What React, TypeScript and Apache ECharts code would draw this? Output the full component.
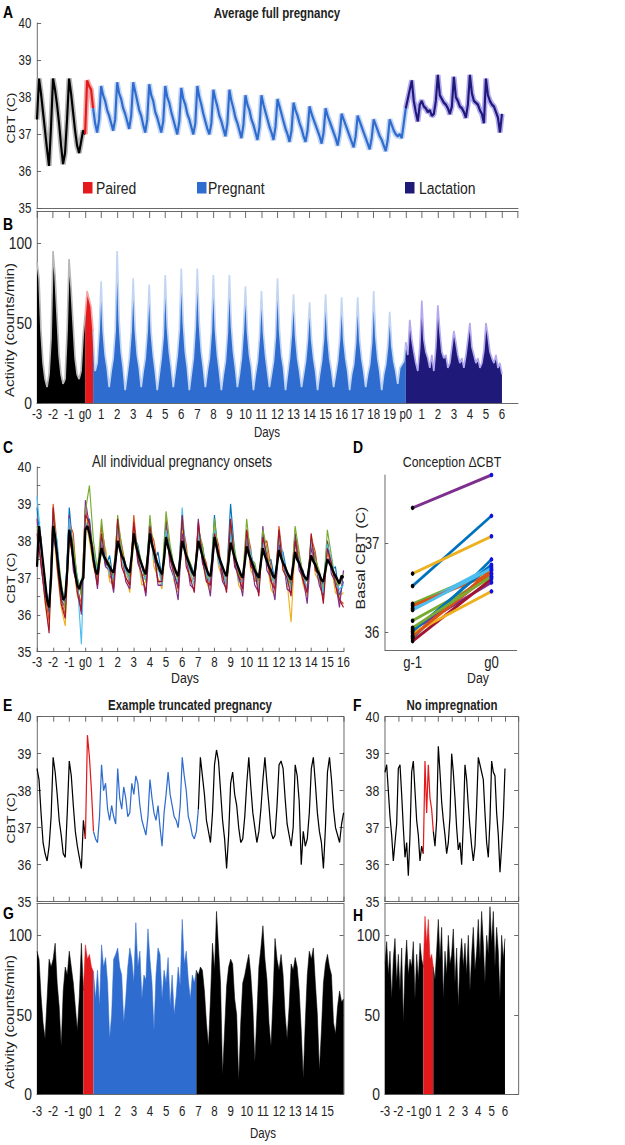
import React, { useEffect, useRef } from "react";
import * as echarts from "echarts";

const FONT = '"Liberation Sans", Arial, sans-serif';
// The reference figure is horizontally compressed; the chart is drawn wider and squeezed by this factor.
const SX = 0.82;
const X = (v: number) => v / SX;

// ---------- tick labels ----------
const daysAB = ["-3", "-2", "-1", "g0", "1", "2", "3", "4", "5", "6", "7", "8", "9", "10", "11", "12", "13", "14", "15", "16", "17", "18", "19", "p0", "1", "2", "3", "4", "5", "6"];
const daysC = ["-3", "-2", "-1", "g0", "1", "2", "3", "4", "5", "6", "7", "8", "9", "10", "11", "12", "13", "14", "15", "16"];
const daysEG = ["-3", "-2", "-1", "g0", "1", "2", "3", "4", "5", "6", "7", "8", "9", "10", "11", "12", "13", "14", "15"];
const daysH = ["-3", "-2", "-1", "g0", "1", "2", "3", "4", "5", "6"];
const dayD = ["g-1", "g0"];
const legendNames = ["Paired", "Pregnant", "Lactation"];

// ---------- A: average CBT, 8 samples per day, day index 0..29 ----------
const cbtAvg = [
  37.4, 38.5, 38.1, 37.6, 37.1, 36.6, 36.15, 37.2,
  38.5, 38.2, 37.8, 37.3, 36.7, 36.2, 36.5, 37.4,
  38.5, 38.1, 37.6, 37.1, 36.7, 36.5, 36.8, 37.1,
  37.0, 38.45, 38.3, 38.2, 37.7,
  37.3, 37.05, 37.4,
  38.3, 38.05, 37.9, 37.65, 37.5, 37.3, 37.1, 37.4,
  38.4, 38.1, 37.95, 37.7, 37.55, 37.35, 37.15, 37.5,
  38.4, 38.15, 37.9, 37.65, 37.5, 37.25, 37.05, 37.4,
  38.35, 38.05, 37.9, 37.6, 37.45, 37.25, 37.05, 37.35,
  38.3, 38.0, 37.85, 37.6, 37.4, 37.2, 37.0, 37.35,
  38.25, 37.95, 37.8, 37.55, 37.4, 37.2, 37.0, 37.3,
  38.3, 38.0, 37.8, 37.55, 37.35, 37.15, 37.0, 37.3,
  38.2, 37.95, 37.75, 37.5, 37.35, 37.15, 36.95, 37.3,
  38.2, 37.9, 37.7, 37.45, 37.3, 37.1, 36.9, 37.25,
  38.05, 37.8, 37.65, 37.4, 37.25, 37.05, 36.85, 37.2,
  38.05, 37.8, 37.6, 37.4, 37.2, 37.05, 36.85, 37.2,
  37.95, 37.75, 37.55, 37.35, 37.15, 37.0, 36.8, 37.1,
  37.85, 37.65, 37.5, 37.3, 37.15, 36.95, 36.8, 37.1,
  37.75, 37.55, 37.4, 37.25, 37.1, 36.95, 36.75, 37.05,
  37.7, 37.5, 37.35, 37.2, 37.05, 36.9, 36.7, 37.0,
  37.55, 37.4, 37.25, 37.1, 36.95, 36.8, 36.65, 36.95,
  37.5, 37.35, 37.2, 37.05, 36.9, 36.75, 36.6, 36.9,
  37.4, 37.25, 37.1, 36.95, 36.85, 36.7, 36.55, 36.85,
  37.4, 37.25, 37.1, 37.0, 36.95, 37.0, 36.9, 37.3,
  37.7, 37.95, 38.2, 38.45, 37.9, 37.6, 37.35, 37.8,
  37.9, 37.75, 37.7, 37.6, 37.65, 37.5, 37.55, 37.9,
  38.6, 38.05, 37.95, 37.85, 37.8, 37.7, 37.55, 37.75,
  38.55, 38.0, 37.9, 37.75, 37.7, 37.6, 37.45, 37.8,
  38.6, 38.1, 37.9, 37.85, 37.8, 37.65, 37.55, 37.3,
  38.5, 38.05, 37.9, 37.8, 37.75, 37.6, 37.45, 37.05,
  37.55,
];

// ---------- B: average activity, 8 samples per day ----------
const actAvg = [
  88, 78, 45, 25, 15, 10, 18, 40,
  95, 80, 55, 30, 18, 12, 15, 45,
  90, 72, 50, 28, 18, 15, 20, 42,
  55, 70, 65, 60, 45,
  20, 25, 45,
  76, 45, 30, 22, 10, 20, 28, 45,
  95, 52, 32, 22, 8, 18, 28, 45,
  78, 46, 30, 22, 10, 20, 28, 45,
  74, 44, 30, 20, 8, 18, 28, 42,
  80, 48, 32, 22, 10, 20, 30, 46,
  84, 50, 32, 22, 8, 18, 28, 48,
  84, 50, 32, 22, 10, 20, 28, 45,
  80, 46, 30, 20, 8, 18, 26, 44,
  80, 48, 32, 22, 10, 18, 28, 46,
  73, 45, 30, 22, 8, 18, 26, 42,
  70, 44, 30, 20, 10, 18, 26, 42,
  78, 46, 30, 22, 8, 18, 28, 44,
  68, 42, 28, 20, 10, 18, 26, 40,
  63, 40, 28, 20, 8, 18, 26, 40,
  68, 42, 28, 20, 10, 18, 26, 40,
  66, 40, 28, 20, 8, 18, 24, 38,
  66, 40, 28, 20, 10, 18, 24, 38,
  70, 42, 28, 20, 8, 18, 24, 36,
  57, 36, 26, 20, 12, 22, 24, 26,
  38, 30, 52, 40, 32, 25, 20, 35,
  64, 40, 32, 28, 22, 30, 20, 35,
  61, 45, 32, 28, 30, 22, 25, 35,
  45, 38, 30, 25, 28, 22, 30, 40,
  50, 35, 30, 25, 28, 22, 25, 33,
  50, 42, 32, 28, 25, 30, 22, 25,
  18,
];

// ---------- C: mean CBT (8/day) and individual animals (4/day), day index 0..19 ----------
const cbtMeanC = [
  37.3, 38.4, 37.9, 37.4, 36.9, 36.4, 36.2, 37.0,
  38.4, 38.1, 37.6, 37.1, 36.7, 36.4, 36.5, 37.2,
  38.3, 38.0, 37.5, 37.1, 36.8, 36.7, 36.9, 37.0,
  38.3, 38.4, 38.2, 37.9, 37.5, 37.2, 37.1, 37.5,
  37.8, 37.6, 37.5, 37.4, 37.3, 37.2, 37.15, 37.5,
  38.0, 37.8, 37.6, 37.5, 37.3, 37.2, 37.15, 37.6,
  38.2, 37.9, 37.7, 37.5, 37.35, 37.2, 37.1, 37.6,
  38.2, 37.9, 37.7, 37.5, 37.35, 37.2, 37.1, 37.5,
  38.1, 37.85, 37.65, 37.45, 37.3, 37.15, 37.05, 37.5,
  38.0, 37.8, 37.6, 37.45, 37.3, 37.15, 37.05, 37.5,
  38.0, 37.8, 37.6, 37.4, 37.25, 37.1, 37.05, 37.5,
  38.1, 37.85, 37.6, 37.45, 37.3, 37.15, 37.05, 37.45,
  37.95, 37.75, 37.55, 37.4, 37.25, 37.1, 37.0, 37.4,
  37.85, 37.65, 37.5, 37.35, 37.2, 37.1, 37.0, 37.4,
  37.8, 37.6, 37.45, 37.3, 37.2, 37.05, 37.0, 37.35,
  37.75, 37.55, 37.4, 37.3, 37.15, 37.05, 36.95, 37.3,
  37.7, 37.5, 37.4, 37.25, 37.1, 37.0, 36.95, 37.3,
  37.6, 37.45, 37.35, 37.2, 37.1, 36.95, 36.9, 37.2,
  37.5, 37.4, 37.3, 37.15, 37.05, 36.95, 36.85, 37.05,
  37.0,
];
const indiv1 = [38.9, 37.8, 36.9, 36.0, 38.6, 37.5, 36.8, 36.3, 38.9, 37.7, 37.0, 36.6, 38.3, 38.6, 37.6, 37.0, 37.9, 37.3, 37.6, 36.9, 38.3, 37.6, 37.2, 37.0, 38.1, 37.9, 37.3, 36.9, 38.6, 37.4, 37.7, 37.0, 38.2, 37.8, 37.1, 36.8, 38.4, 37.6, 37.4, 37.1, 37.9, 37.9, 37.2, 36.8, 38.7, 37.5, 37.3, 37.0, 39.0, 37.7, 37.0, 36.9, 38.0, 37.6, 37.3, 36.7, 38.2, 37.4, 37.5, 36.9, 37.8, 37.7, 37.1, 36.8, 38.1, 37.3, 37.2, 36.6, 37.9, 37.6, 37.0, 36.8, 38.0, 37.2, 37.3, 36.5, 36.9];
const indiv2 = [38.3, 38.1, 36.6, 35.8, 39.0, 37.9, 36.4, 36.0, 38.5, 38.2, 36.7, 36.3, 38.9, 38.2, 37.8, 36.8, 38.4, 37.7, 37.0, 37.2, 38.5, 37.9, 37.3, 36.8, 38.7, 37.6, 37.0, 37.2, 38.3, 38.0, 37.3, 36.9, 38.6, 37.6, 37.2, 37.0, 38.5, 37.9, 36.9, 37.0, 38.4, 37.7, 37.4, 36.7, 38.3, 37.9, 37.0, 37.1, 38.5, 37.5, 37.2, 36.8, 38.3, 37.8, 36.9, 37.0, 37.9, 38.0, 37.3, 36.6, 38.4, 37.5, 36.9, 36.9, 38.2, 37.6, 37.1, 36.6, 38.1, 37.7, 36.9, 36.7, 37.8, 37.4, 37.0, 36.4, 36.3];
const indiv3 = [38.1, 37.5, 36.3, 35.6, 38.4, 37.2, 36.2, 35.7, 38.2, 37.4, 36.5, 36.2, 38.6, 38.0, 37.3, 36.9, 37.7, 37.8, 36.9, 36.8, 38.2, 37.4, 37.1, 36.6, 38.0, 37.6, 36.8, 36.9, 38.5, 37.3, 37.0, 36.7, 38.0, 37.7, 36.9, 36.6, 38.3, 37.4, 37.1, 36.8, 38.1, 37.5, 36.9, 36.6, 38.4, 37.3, 37.0, 36.7, 37.9, 37.6, 36.8, 36.6, 38.2, 37.2, 37.0, 36.8, 38.0, 37.5, 36.7, 36.5, 38.1, 37.3, 36.9, 35.8, 37.9, 37.4, 36.8, 36.5, 38.2, 37.1, 36.9, 36.4, 37.7, 37.3, 36.6, 36.5, 36.6];
const indiv4 = [38.6, 37.3, 36.5, 36.4, 38.1, 37.6, 36.4, 36.2, 38.7, 37.2, 36.8, 36.0, 39.1, 38.4, 37.5, 36.7, 38.1, 37.3, 37.2, 36.6, 38.0, 37.7, 36.9, 36.7, 38.4, 37.4, 37.1, 36.5, 38.1, 37.8, 36.8, 36.8, 38.5, 37.3, 37.0, 36.4, 38.2, 37.6, 36.8, 36.7, 38.6, 37.4, 37.1, 36.5, 38.0, 37.6, 36.9, 36.7, 38.3, 37.3, 37.1, 36.5, 38.1, 37.5, 36.8, 36.6, 38.4, 37.2, 37.0, 36.4, 37.9, 37.6, 36.7, 36.6, 38.2, 37.2, 37.0, 36.3, 37.8, 37.4, 36.8, 36.5, 38.0, 37.1, 36.9, 36.2, 37.2];
const indiv5 = [38.4, 37.9, 36.8, 36.2, 38.8, 37.8, 36.9, 36.1, 38.3, 37.9, 37.0, 36.5, 38.8, 39.5, 38.0, 37.2, 38.6, 37.5, 37.4, 36.9, 38.7, 37.8, 37.3, 37.0, 38.3, 37.8, 37.4, 36.9, 38.7, 37.6, 37.2, 37.1, 38.8, 37.9, 37.3, 36.9, 38.6, 37.7, 37.4, 37.0, 38.3, 37.9, 37.0, 37.0, 38.6, 37.6, 37.3, 36.8, 38.4, 37.8, 37.1, 37.0, 38.6, 37.5, 37.4, 36.9, 38.3, 37.8, 37.0, 36.9, 38.2, 37.4, 37.2, 36.7, 38.4, 37.7, 37.0, 36.9, 38.0, 37.5, 37.2, 36.6, 38.3, 37.6, 36.9, 36.8, 37.1];
const indiv6 = [39.2, 38.0, 36.7, 36.3, 38.5, 38.0, 36.6, 36.4, 38.6, 37.6, 36.9, 35.2, 38.5, 38.3, 37.7, 37.1, 38.0, 37.6, 37.1, 37.0, 38.4, 37.5, 37.2, 36.9, 38.2, 37.7, 37.0, 37.0, 38.4, 37.5, 37.3, 36.8, 38.3, 37.6, 37.0, 36.9, 38.9, 37.5, 37.2, 36.8, 38.2, 37.6, 37.1, 36.9, 38.3, 37.4, 37.2, 36.8, 38.2, 37.6, 36.9, 36.9, 38.1, 37.7, 37.1, 36.7, 38.0, 37.4, 37.2, 36.8, 38.1, 37.6, 36.9, 36.7, 37.9, 37.5, 37.1, 36.7, 38.0, 37.3, 37.0, 36.6, 37.9, 37.5, 36.8, 36.7, 36.8];
const indiv7 = [38.2, 37.4, 36.4, 35.5, 38.9, 37.3, 36.3, 35.9, 38.1, 37.5, 36.6, 36.1, 38.7, 38.5, 37.4, 36.8, 38.2, 37.4, 37.3, 36.7, 38.6, 37.3, 37.0, 36.8, 38.5, 37.5, 37.1, 36.6, 38.4, 37.7, 36.9, 36.9, 38.1, 37.5, 37.1, 36.7, 38.7, 37.3, 37.0, 36.6, 38.5, 37.5, 36.9, 36.8, 38.2, 37.7, 37.1, 36.6, 38.6, 37.4, 37.0, 36.7, 38.3, 37.3, 37.2, 36.5, 38.1, 37.6, 36.9, 36.7, 38.3, 37.2, 37.0, 36.5, 38.0, 37.4, 36.9, 36.6, 38.2, 37.2, 37.1, 36.3, 37.8, 37.4, 36.8, 36.4, 36.2];
const indivC = [indiv1, indiv2, indiv3, indiv4, indiv5, indiv6, indiv7];
const indivColors = ["#0072BD", "#D95319", "#EDB120", "#7E2F8E", "#77AC30", "#4DBEEE", "#A2142F"];

// ---------- D: basal CBT at g-1 and g0 ----------
const dStart = [37.4, 36.52, 36.66, 35.93, 36.32, 36.27, 36.3, 36.13, 36.03, 35.96, 35.9, 35.99, 35.95, 36.01, 36.25, 36.05];
const dEnd = [37.77, 37.31, 37.08, 36.82, 36.7, 36.74, 36.66, 36.62, 36.56, 36.66, 36.6, 36.46, 36.7, 36.76, 36.72, 36.63];
const dColors = ["#7E2F8E", "#0072BD", "#EDB120", "#0072BD", "#77AC30", "#4DBEEE", "#D95319", "#77AC30", "#7E2F8E", "#D95319", "#A2142F", "#EDB120", "#D95319", "#0072BD", "#4DBEEE", "#77AC30"];

// ---------- E: truncated pregnancy CBT, 8/day, 0..19 ----------
const cbtE = [
  38.6, 38.3, 37.4, 36.6, 36.3, 36.1, 36.5, 37.3,
  38.9, 38.5, 37.9, 37.2, 36.8, 36.3, 36.2, 37.4,
  38.8, 38.4, 37.6, 36.9, 36.5, 36.2, 35.9, 37.2,
  36.7, 39.5, 38.9, 38.0, 36.9,
  36.7, 36.6, 37.3,
  38.7, 38.0, 38.2, 37.5, 37.2, 37.6, 37.3, 37.1,
  38.6, 37.8, 37.5, 38.1, 37.8, 37.3, 37.4, 38.2,
  37.9, 38.4, 38.2, 37.6, 37.2, 37.0, 36.8, 37.3,
  38.3, 37.8, 37.4, 37.2, 37.6, 37.0, 36.5, 37.4,
  37.9, 38.5, 37.9, 37.6, 37.3, 37.2, 37.0, 37.6,
  38.9, 38.4, 38.0, 37.3, 37.1, 36.8, 36.7, 36.9,
  37.5,
  38.9, 38.4, 37.9, 37.2, 36.9, 36.6, 37.4,
  38.7, 39.1, 38.8, 38.0, 37.2, 36.7, 35.9, 36.8,
  38.2, 38.5, 37.9, 37.6, 37.0, 36.6, 36.7, 37.3,
  38.2, 38.9, 38.1, 37.4, 37.0, 36.6, 36.9, 37.5,
  38.3, 38.9, 38.2, 37.6, 36.9, 36.7, 36.8, 37.6,
  38.7, 38.8, 38.6, 37.8, 37.1, 36.8, 36.5, 37.0,
  38.7, 38.4, 37.7, 36.0, 36.9, 36.5, 36.7, 37.4,
  38.6, 38.9, 38.2, 37.4, 36.9, 36.6, 35.9, 37.0,
  38.5, 38.9, 38.3, 37.5, 37.0, 36.8, 36.6, 37.1,
  37.4,
];

// ---------- F: no impregnation CBT, 8/day, 0..9 ----------
const cbtF = [
  38.5, 38.7, 38.0, 37.3, 36.8, 36.1, 36.6, 37.1,
  38.6, 38.7, 37.9, 37.0, 36.2, 36.6, 35.7, 36.8,
  38.5, 38.8, 38.0, 37.2, 36.8, 36.1, 36.5, 36.3,
  38.8, 37.4, 38.7, 37.8, 37.5, 36.9,
  36.5, 37.2,
  39.2, 38.5, 37.7, 37.2, 36.8, 36.3, 36.6, 37.3,
  39.0, 38.5, 37.8, 37.0, 36.4, 36.6, 36.0, 37.1,
  38.7, 38.3, 37.6, 37.0, 36.5, 36.1, 36.5, 37.6,
  38.9, 38.7, 38.5, 38.3, 37.4, 36.6, 36.2, 37.2,
  38.8, 38.5, 38.4, 37.4, 36.8, 35.8, 36.5, 37.3,
  38.6,
];

// ---------- G: truncated pregnancy activity, 8/day, 0..19 ----------
const actG = [
  90, 85, 62, 45, 35, 60, 85, 80,
  85, 95, 70, 55, 30, 65, 80, 75,
  90, 80, 70, 55, 40, 62, 95, 65,
  94, 85, 88, 80, 77,
  60, 78, 55,
  94, 80, 86, 70, 35, 50, 85, 88,
  92, 80, 75, 45, 60, 80, 92, 85,
  70, 108, 80, 90, 60, 75, 72, 104,
  85, 70, 40, 75, 92, 88, 60, 78,
  70, 86, 55, 75, 50, 62, 80, 68,
  110, 82, 90, 72, 60, 75, 70, 78,
  75, 80, 78, 65, 45, 30, 60, 95,
  78, 115, 92, 70, 12, 40, 68, 80,
  85, 82, 60, 50, 8, 45, 70, 75,
  82, 88, 75, 55, 20, 50, 80, 92,
  106, 85, 72, 45, 30, 60, 98, 85,
  78, 88, 75, 50, 35, 55, 82, 78,
  86, 80, 65, 40, 10, 45, 75, 90,
  85, 92, 70, 50, 15, 40, 70, 82,
  88, 80, 75, 45, 38, 55, 65, 58,
  60,
];

// ---------- H: no impregnation activity, 8/day, 0..9 ----------
const actH = [
  82, 96, 75, 90, 60, 85, 98, 70,
  88, 65, 92, 45, 80, 97, 75, 85,
  80, 96, 60, 88, 72, 95, 85, 80,
  112, 95, 110, 85, 88, 80,
  72, 90,
  110, 85, 105, 60, 90, 75, 100, 82,
  88, 104, 70, 92, 55, 85, 98, 80,
  95, 75, 100, 65, 88, 105, 78, 90,
  110, 85, 115, 95, 70, 100, 88, 118,
  95, 115, 80, 105, 90, 60, 100, 85,
  98,
];

// ---------- colours ----------
const BLACK = "#000000";
const RED = "#e3191c";
const BLUE = "#2f6ccf";
const NAVY = "#1f1a7a";
const L_BLACK = "#b8b8b8";
const L_RED = "#f4a6a6";
const L_BLUE = "#c2d5f3";
const L_NAVY = "#b3a9ee";
const AX = "#5a5a5a";
const TXT = "#222222";

function seg(vals: number[], step: number, a: number, b: number) {
  const out: number[][] = [];
  for (let i = a; i <= b; i++) out.push([i * step, vals[i]]);
  return out;
}

function line(data: any[], xi: number, yi: number, color: string, width: number, z = 2) {
  return {
    type: "line", xAxisIndex: xi, yAxisIndex: yi, data, symbol: "none", showSymbol: false,
    lineStyle: { color, width }, z, silent: true,
  };
}

function area(data: any[], xi: number, yi: number, color: string, edge: string, width: number, z = 2) {
  return {
    type: "line", xAxisIndex: xi, yAxisIndex: yi, data, symbol: "none", showSymbol: false,
    lineStyle: { color: edge, width }, areaStyle: { color, opacity: 1, origin: "start" }, z, silent: true,
  };
}

const lab = (size: number, margin: number, extra: any = {}) => ({
  fontSize: size, fontFamily: FONT, color: TXT, margin, ...extra,
});
const aLine = { show: true, onZero: false, lineStyle: { color: AX, width: 1 } };
const noTick = { show: false };
const tickIn = (len: number, extra: any = {}) => ({ show: true, inside: true, length: len, lineStyle: { color: AX, width: 1 }, ...extra });
const fromList = (list: string[]) => (v: number) => {
  const r = Math.round(v);
  return Math.abs(v - r) < 1e-6 && list[r] !== undefined ? list[r] : "";
};

function grid(left: number, top: number, width: number, height: number) {
  return { left: X(left), top, width: X(width), height, containLabel: false, outerBoundsMode: "none", show: false };
}

function buildOption() {
  const grids = [
    grid(37, 23, 481, 185.5), // A
    grid(37, 211, 481, 192), // B
    grid(37, 467, 306.5, 184.7), // C
    grid(385, 475, 131.7, 175), // D
    grid(37, 716.7, 306.6, 185), // E
    grid(385, 716.7, 133.3, 185), // F
    grid(37, 903.5, 306.6, 190.8), // G
    grid(385, 903.5, 133.3, 190.8), // H
  ];

  const xAxis: any[] = [
    { gridIndex: 0, type: "value", min: 0, max: 30, interval: 1, axisLine: aLine, axisTick: noTick, axisLabel: { show: false }, splitLine: { show: false } },
    { gridIndex: 1, type: "value", min: 0, max: 30, interval: 1, axisLine: aLine, axisTick: noTick, axisLabel: lab(14, 4, { formatter: fromList(daysAB) }), splitLine: { show: false } },
    { gridIndex: 1, type: "value", position: "top", min: 0, max: 30, interval: 1, axisLine: aLine, axisTick: tickIn(7), axisLabel: { show: false }, splitLine: { show: false } },
    { gridIndex: 2, type: "value", min: 0, max: 19, interval: 1, axisLine: aLine, axisTick: tickIn(4), axisLabel: lab(14, 3, { formatter: fromList(daysC) }), splitLine: { show: false } },
    { gridIndex: 3, type: "value", min: 0.65, max: 2.32, axisLine: aLine, axisTick: noTick, axisLabel: lab(16, 5, { customValues: [1, 2], formatter: (v: number) => dayD[Math.round(v) - 1] ?? "" }), splitLine: { show: false } },
    { gridIndex: 4, type: "value", min: 0, max: 19, interval: 1, axisLine: aLine, axisTick: tickIn(5), axisLabel: { show: false }, splitLine: { show: false } },
    { gridIndex: 4, type: "value", position: "top", min: 0, max: 19, interval: 1, axisLine: aLine, axisTick: tickIn(5), axisLabel: { show: false }, splitLine: { show: false } },
    { gridIndex: 5, type: "value", min: 0, max: 10, interval: 1, axisLine: aLine, axisTick: tickIn(5), axisLabel: { show: false }, splitLine: { show: false } },
    { gridIndex: 5, type: "value", position: "top", min: 0, max: 10, interval: 1, axisLine: aLine, axisTick: tickIn(5), axisLabel: { show: false }, splitLine: { show: false } },
    { gridIndex: 6, type: "value", min: 0, max: 19, interval: 1, axisLine: aLine, axisTick: noTick, axisLabel: lab(14, 10, { formatter: fromList(daysEG) }), splitLine: { show: false } },
    { gridIndex: 7, type: "value", min: 0, max: 10, interval: 1, axisLine: aLine, axisTick: noTick, axisLabel: lab(14, 10, { formatter: fromList(daysH) }), splitLine: { show: false } },
    { gridIndex: 6, type: "value", position: "top", min: 0, max: 19, interval: 1, axisLine: aLine, axisTick: noTick, axisLabel: { show: false }, splitLine: { show: false } },
    { gridIndex: 7, type: "value", position: "top", min: 0, max: 10, interval: 1, axisLine: aLine, axisTick: noTick, axisLabel: { show: false }, splitLine: { show: false } },
  ];

  const intOnly = (v: number) => (Math.abs(v - Math.round(v)) < 1e-6 ? String(Math.round(v)) : "");
  const yAxis: any[] = [
    { gridIndex: 0, type: "value", min: 35, max: 40, interval: 1, axisLine: aLine, axisTick: tickIn(5), axisLabel: lab(14, 7), splitLine: { show: false } },
    { gridIndex: 1, type: "value", min: 0, max: 120, axisLine: aLine, axisTick: tickIn(5, { customValues: [0, 50, 100] }), axisLabel: lab(17, 6, { customValues: [0, 50, 100] }), splitLine: { show: false } },
    { gridIndex: 2, type: "value", min: 35, max: 40, interval: 0.5, axisLine: aLine, axisTick: tickIn(4), axisLabel: lab(15, 7, { formatter: intOnly }), splitLine: { show: false } },
    { gridIndex: 3, type: "value", min: 35.8, max: 37.77, axisLine: aLine, axisTick: tickIn(4, { customValues: [36, 37] }), axisLabel: lab(16, 7, { customValues: [36, 37] }), splitLine: { show: false } },
    { gridIndex: 4, type: "value", min: 35, max: 40, interval: 1, axisLine: aLine, axisTick: tickIn(5), axisLabel: lab(15, 7), splitLine: { show: false } },
    { gridIndex: 4, type: "value", position: "right", min: 35, max: 40, interval: 1, axisLine: aLine, axisTick: tickIn(5), axisLabel: { show: false }, splitLine: { show: false } },
    { gridIndex: 5, type: "value", min: 35, max: 40, interval: 1, axisLine: aLine, axisTick: tickIn(5), axisLabel: lab(15, 7), splitLine: { show: false } },
    { gridIndex: 5, type: "value", position: "right", min: 35, max: 40, interval: 1, axisLine: aLine, axisTick: tickIn(5), axisLabel: { show: false }, splitLine: { show: false } },
    { gridIndex: 6, type: "value", min: 0, max: 120, axisLine: aLine, axisTick: tickIn(5, { customValues: [0, 50, 100] }), axisLabel: lab(17, 6, { customValues: [0, 50, 100] }), splitLine: { show: false } },
    { gridIndex: 6, type: "value", position: "right", min: 0, max: 120, axisLine: aLine, axisTick: tickIn(5, { customValues: [0, 50, 100] }), axisLabel: { show: false }, splitLine: { show: false } },
    { gridIndex: 7, type: "value", min: 0, max: 120, axisLine: aLine, axisTick: tickIn(5, { customValues: [0, 50, 100] }), axisLabel: lab(17, 6, { customValues: [0, 50, 100] }), splitLine: { show: false } },
    { gridIndex: 7, type: "value", position: "right", min: 0, max: 120, axisLine: aLine, axisTick: tickIn(5, { customValues: [0, 50, 100] }), axisLabel: { show: false }, splitLine: { show: false } },
  ];

  const s8 = 1 / 8;
  const series: any[] = [];
  // A
  const aSegs: [number, number, string, string][] = [[0, 24, BLACK, L_BLACK], [24, 28, RED, L_RED], [28, 184, BLUE, L_BLUE], [184, 232, NAVY, L_NAVY]];
  aSegs.forEach(([a, b, c, l]) => series.push(line(seg(cbtAvg, s8, a, b), 0, 0, l, 6.5, 1)));
  aSegs.forEach(([a, b, c]) => series.push(line(seg(cbtAvg, s8, a, b), 0, 0, c, 2.6, 2)));
  // B
  aSegs.forEach(([a, b, c, l]) => series.push(area(seg(actAvg, s8, a, b), 1, 1, c, l, 2)));
  // C
  indivC.forEach((arr, i) => series.push(line(seg(arr, 0.25, 0, arr.length - 1), 3, 2, indivColors[i], 1.4, 2)));
  series.push(line(seg(cbtMeanC, s8, 0, cbtMeanC.length - 1), 3, 2, BLACK, 2.8, 5));
  // D
  dStart.forEach((s, i) => series.push({
    type: "line", xAxisIndex: 4, yAxisIndex: 3, silent: true, symbol: "circle", symbolSize: 4.5, showSymbol: true,
    lineStyle: { color: dColors[i], width: 3 }, itemStyle: { color: dColors[i] }, z: 3,
    data: [{ value: [1, s], itemStyle: { color: "#000000" } }, { value: [2, dEnd[i]], itemStyle: { color: "#1010e0" } }],
  }));
  // E
  const eSegs: [number, number, string][] = [[0, 24, BLACK], [24, 28, RED], [28, 80, BLUE], [80, 152, BLACK]];
  eSegs.forEach(([a, b, c]) => series.push(line(seg(cbtE, s8, a, b), 5, 4, c, 1.5)));
  // F
  const fSegs: [number, number, string][] = [[0, 23, BLACK], [23, 29, RED], [29, 72, BLACK]];
  fSegs.forEach(([a, b, c]) => series.push(line(seg(cbtF, s8, a, b), 7, 6, c, 1.5)));
  // G
  const gSegs: [number, number, string][] = [[0, 23, BLACK], [23, 28, RED], [28, 79, BLUE], [79, 152, BLACK]];
  gSegs.forEach(([a, b, c]) => series.push(area(seg(actG, s8, a, b), 9, 8, c, c, 0.6)));
  // H
  fSegs.forEach(([a, b, c]) => series.push(area(seg(actH, s8, a, b), 10, 10, c, c, 0.6)));

  const txt = (x: number, y: number, text: string, font: string, align = "center", fill = TXT) => ({
    type: "text", x: X(x), y, silent: true, z: 100,
    style: { text, font, fill, align, verticalAlign: "middle" },
  });
  const vtxt = (x: number, y: number, text: string, font: string) => ({
    type: "text", x: X(x), y, rotation: Math.PI / 2, silent: true, z: 100,
    style: { text, font, fill: TXT, align: "center", verticalAlign: "middle" },
  });
  const letter = (x: number, y: number, t: string) => txt(x, y, t, `bold 17px ${FONT}`, "left", "#000");
  const rect = (x: number, color: string) => ({ type: "rect", shape: { x: X(x), y: 182, width: X(9.5), height: 11.5 }, style: { fill: color }, silent: true, z: 100 });

  const graphic: any[] = [
    txt(277, 13, "Average full pregnancy", `bold 14px ${FONT}`),
    txt(182, 462, "All individual pregnancy onsets", `16px ${FONT}`),
    txt(452, 462, "Conception \u0394CBT", `15px ${FONT}`),
    txt(190, 705, "Example truncated pregnancy", `bold 14px ${FONT}`),
    txt(452, 705, "No impregnation", `bold 14px ${FONT}`),
    letter(3, 12, "A"), letter(3, 224, "B"), letter(3, 447, "C"), letter(353, 447, "D"),
    letter(3, 705, "E"), letter(353, 705, "F"), letter(3, 913, "G"), letter(353, 915, "H"),
    vtxt(11, 118, "CBT (C)", `14px ${FONT}`),
    vtxt(10, 330, "Activity (counts/min)", `15px ${FONT}`),
    vtxt(11, 578, "CBT (C)", `14px ${FONT}`),
    vtxt(361, 558, "Basal CBT (C)", `16px ${FONT}`),
    vtxt(11, 818, "CBT (C)", `14px ${FONT}`),
    vtxt(10, 1022, "Activity (counts/min)", `15px ${FONT}`),
    txt(267, 432, "Days", `14px ${FONT}`),
    txt(185, 678, "Days", `15px ${FONT}`),
    txt(478, 678, "Day", `15px ${FONT}`),
    txt(263, 1133, "Days", `14px ${FONT}`),
    rect(83, RED), rect(197, BLUE), rect(405, NAVY),
    txt(96, 188, legendNames[0], `17px ${FONT}`, "left"),
    txt(208, 188, legendNames[1], `17px ${FONT}`, "left"),
    txt(419, 188, legendNames[2], `17px ${FONT}`, "left"),
  ];

  return { animation: false, backgroundColor: "#ffffff", grid: grids, xAxis, yAxis, series, graphic };
}

export default function App() {
  const ref = useRef<HTMLDivElement>(null);
  useEffect(() => {
    document.body.style.margin = "0";
    const chart = echarts.init(ref.current as HTMLDivElement, null, { renderer: "svg" });
    chart.setOption(buildOption() as any);
    return () => chart.dispose();
  }, []);
  return (
    <div style={{ width: 625, height: 1145, overflow: "hidden", position: "relative", background: "#fff" }}>
      <div
        ref={ref}
        style={{ width: X(625), height: 1145, transform: `scaleX(${SX})`, transformOrigin: "0 0", position: "absolute", left: 0, top: 0 }}
      />
    </div>
  );
}
